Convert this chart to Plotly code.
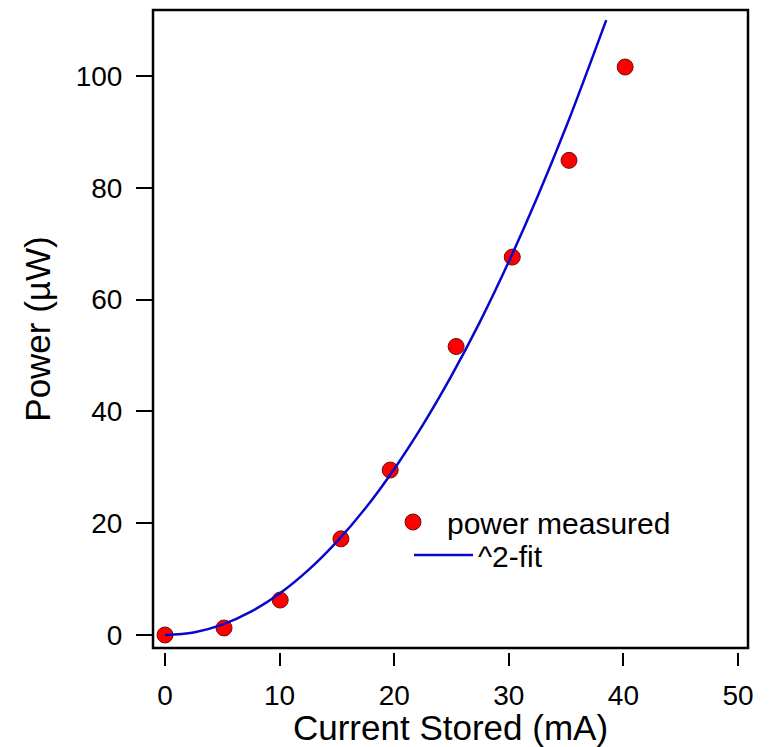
import plotly.graph_objects as go

# measured data
current_mA = [0.0, 5.15, 10.05, 15.35, 19.65, 25.4, 30.3, 35.25, 40.15]
power_uW = [0.0, 1.25, 6.25, 17.2, 29.5, 51.6, 67.6, 84.9, 101.6]

# quadratic fit curve
fit_x = [0.0, 2.5, 5.0, 7.5, 10.0, 12.5, 15.0, 17.5, 20.0, 22.5, 25.0, 27.5, 30.0, 32.5, 35.0, 38.5]
fit_y = [0.0, 0.46, 1.86, 4.17, 7.42, 11.6, 16.7, 22.7, 29.7, 37.6, 46.4, 56.1, 66.8, 78.4, 90.9, 110.0]

x_ticks = [0, 10, 20, 30, 40, 50]
y_ticks = [0, 20, 40, 60, 80, 100]

FONT = "Liberation Sans, Arial, sans-serif"

W, H = 773, 747
L, R, T, B = 153, 25, 10, 95
plot_w = W - L - R
plot_h = H - T - B
ydom0 = 4 / plot_h


def px_to_paper_x(px):
    return (px - L) / plot_w


def px_to_paper_y(py):
    return (H - B - py) / plot_h


fig = go.Figure()
fig.add_trace(go.Scatter(
    x=current_mA, y=power_uW, mode="markers", name="power measured",
    marker=dict(size=16, color="#FF0000", line=dict(color="#6e0f0f", width=1)),
    legend="legend",
))
fig.add_trace(go.Scatter(
    x=fit_x, y=fit_y, mode="lines", name="^2-fit",
    line=dict(color="#0808CC", width=2.5, shape="spline"),
    legend="legend2",
))

fig.update_layout(
    width=W, height=H,
    margin=dict(l=L, r=R, t=T, b=B),
    paper_bgcolor="white", plot_bgcolor="white",
    font=dict(family=FONT, size=28, color="black"),
    showlegend=True,
    legend=dict(x=px_to_paper_x(379), y=px_to_paper_y(522), xanchor="left",
                yanchor="middle", bgcolor="rgba(0,0,0,0)",
                font=dict(size=30), itemwidth=58),
    legend2=dict(x=px_to_paper_x(409), y=px_to_paper_y(555), xanchor="left",
                 yanchor="middle", bgcolor="rgba(0,0,0,0)",
                 font=dict(size=30), itemwidth=59),
    xaxis=dict(
        range=[-1.05, 50.87], tickvals=x_ticks, ticks="outside", ticklen=13,
        tickwidth=2, tickcolor="black", showline=False, showgrid=False,
        zeroline=False, anchor="free", position=0, ticklabelstandoff=5,
        automargin=False,
        title=dict(text="Current Stored (mA)", font=dict(size=35), standoff=6),
    ),
    yaxis=dict(
        range=[-2.33, 111.8], tickvals=y_ticks, ticks="outside", ticklen=16,
        tickwidth=2, tickcolor="black", showline=False, showgrid=False,
        zeroline=False, domain=[ydom0, 1], ticklabelstandoff=8,
        automargin=False,
        title=dict(text="Power (µW)", font=dict(size=35), standoff=14),
    ),
    shapes=[dict(type="rect", xref="x domain", yref="y domain",
                 x0=0, x1=1, y0=0, y1=1, line=dict(color="black", width=2.5),
                 layer="above")],
)

fig.write_html("out.html")
